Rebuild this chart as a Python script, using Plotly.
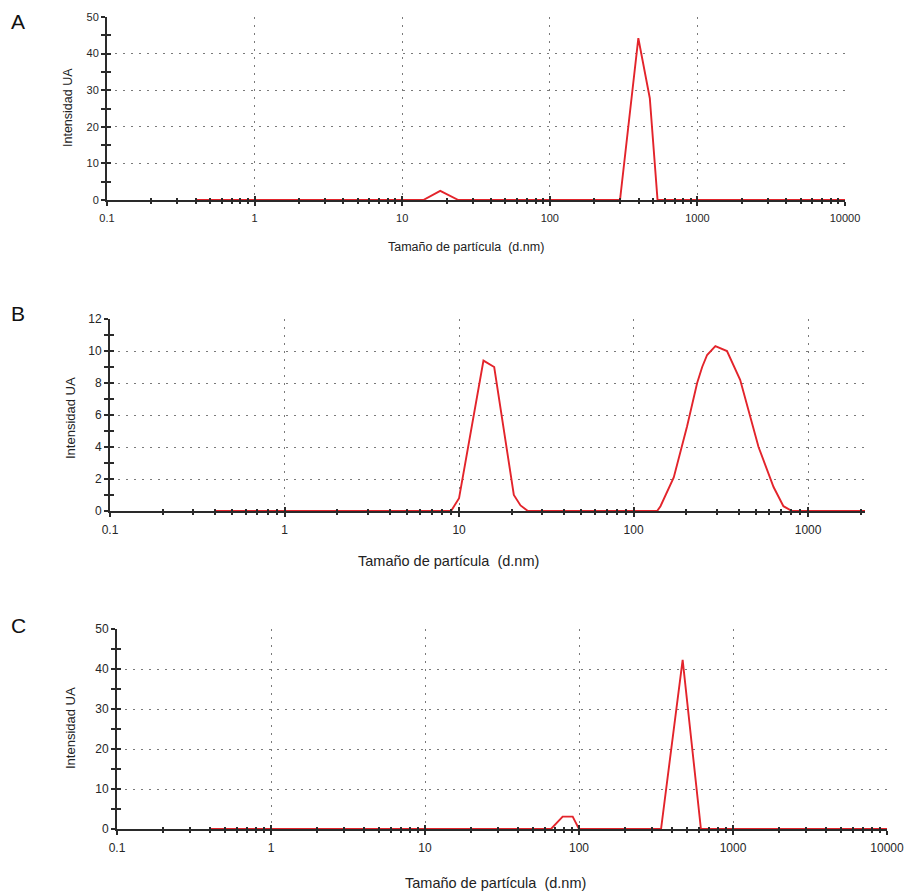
import math
import plotly.graph_objects as go

# ---------------- data ----------------
A_size = [0.4, 13.9, 18.1, 24.0, 299, 398, 476, 537, 10000]
A_int = [0, 0, 2.5, 0, 0, 44.2, 27.8, 0, 0]

B_size = [0.4, 9.0, 10.0, 13.8, 15.9, 20.6, 22.5, 24.8, 136.5, 142.6, 169.9, 202.6,
          231.3, 247.2, 263.8, 294.2, 343, 408, 520, 634, 722, 807, 10000]
B_int = [0, 0, 0.8, 9.4, 9.0, 1.0, 0.35, 0, 0, 0.3, 2.1, 5.3,
         8.0, 9.0, 9.75, 10.3, 10.0, 8.2, 4.0, 1.5, 0.3, 0, 0]

C_size = [0.4, 65.8, 78.3, 91, 100, 341, 471, 619, 10000]
C_int = [0, 0, 3.1, 3.1, 0, 0, 42.3, 0, 0]

x_tickvals_AC = [0.1, 1, 10, 100, 1000, 10000]
x_ticktext_AC = ["0.1", "1", "10", "100", "1000", "10000"]
x_tickvals_B = [0.1, 1, 10, 100, 1000]
x_ticktext_B = ["0.1", "1", "10", "100", "1000"]

y_ticks_AC = [0, 10, 20, 30, 40, 50]
y_ticks_B = [0, 2, 4, 6, 8, 10, 12]

x_title = "Tamaño de partícula  (d.nm)"
y_title = "Intensidad UA"
panel_labels = ["A", "B", "C"]

# ---------------- layout geometry (pixels) ----------------
W, H = 910, 895
def px(x):
    return x / W
def py(y):
    return 1 - y / H

panels = [
    dict(x=A_size, y=A_int, xdom=(107, 845), ydom=(200, 17), xr=(-1, 4), yr=(0, 50),
         xtv=x_tickvals_AC, xtt=x_ticktext_AC, ytv=y_ticks_AC, ymin=5,
         tickfs=11, ytitle=(68, 108, 12.5), xtitle=(466, 247, 12.5), letter=(18, 22)),
    dict(x=B_size, y=B_int, xdom=(110, 865), ydom=(511, 319), xr=(-1, 3.326), yr=(0, 12),
         xtv=x_tickvals_B, xtt=x_ticktext_B, ytv=y_ticks_B, ymin=1,
         tickfs=12, ytitle=(70, 418, 13), xtitle=(448, 561, 14.5), letter=(18, 313)),
    dict(x=C_size, y=C_int, xdom=(117, 887), ydom=(829, 629), xr=(-1, 4), yr=(0, 50),
         xtv=x_tickvals_AC, xtt=x_ticktext_AC, ytv=y_ticks_AC, ymin=5,
         tickfs=12, ytitle=(70, 728, 13), xtitle=(496, 883, 14.5), letter=(18, 625)),
]

FONT = "Liberation Sans, Arial, sans-serif"
AXC = "#2a2a2a"
GRIDC = "#7a7a7a"
TICKFC = "#262626"

fig = go.Figure()
layout = dict(width=W, height=H, margin=dict(l=0, r=0, t=0, b=0, autoexpand=False),
              paper_bgcolor="white", plot_bgcolor="white", showlegend=False,
              font=dict(family=FONT, color="#333"))
annotations = []

for i, p in enumerate(panels):
    n = i + 1
    o = i + 4
    xs = "" if n == 1 else str(n)
    xid, yid = "x" + xs, "y" + xs
    oxid, oyid = "x" + str(o), "y" + str(o)

    fig.add_trace(go.Scatter(x=p["x"], y=p["y"], xaxis=xid, yaxis=yid, mode="lines",
                             line=dict(color="#e3242b", width=1.9), hoverinfo="skip"))
    fig.add_trace(go.Scatter(x=[], y=[], xaxis=oxid, yaxis=oyid, mode="lines",
                             hoverinfo="skip"))

    lo, hi = p["xr"]
    minor_x = [m * 10 ** d for d in range(-1, 4) for m in range(2, 10)
               if lo <= math.log10(m * 10 ** d) <= hi]
    minor_y = [v + p["ymin"] for v in p["ytv"][:-1]]

    xdom = [px(p["xdom"][0]), px(p["xdom"][1])]
    ydom = [py(p["ydom"][0]), py(p["ydom"][1])]

    layout["xaxis" + xs] = dict(
        domain=xdom, anchor=yid, type="log", range=list(p["xr"]), automargin=False,
        tickmode="array", tickvals=p["xtv"], ticktext=p["xtt"], ticklabelstandoff=3,
        showline=True, linecolor=AXC, linewidth=2, mirror=False,
        ticks="outside", ticklen=4, tickwidth=1.5, tickcolor=AXC,
        minor=dict(tickmode="array", tickvals=minor_x, ticks="outside", ticklen=2,
                   tickwidth=1.5, tickcolor=AXC, showgrid=False),
        showgrid=True, gridcolor=GRIDC, gridwidth=1.3, griddash="2px,6px",
        zeroline=False, tickfont=dict(size=p["tickfs"], color=TICKFC, family=FONT),
        fixedrange=True)
    layout["yaxis" + xs] = dict(
        domain=ydom, anchor=xid, range=list(p["yr"]), automargin=False,
        tickmode="array", tickvals=p["ytv"],
        showline=True, linecolor=AXC, linewidth=2,
        ticks="outside", ticklen=4, tickwidth=1.5, tickcolor=AXC,
        minor=dict(tickmode="array", tickvals=minor_y, ticks="outside", ticklen=4,
                   tickwidth=1.5, tickcolor=AXC, showgrid=False),
        showgrid=True, gridcolor=GRIDC, gridwidth=1.3, griddash="2px,6px",
        zeroline=False, tickfont=dict(size=p["tickfs"], color=TICKFC, family=FONT),
        fixedrange=True)
    # overlay axes giving the inner half of the cross-shaped tick marks
    layout["xaxis" + str(o)] = dict(
        overlaying=xid, anchor=yid, type="log", range=list(p["xr"]), automargin=False,
        tickmode="array", tickvals=p["xtv"], showticklabels=False,
        showline=False, showgrid=False, zeroline=False,
        ticks="inside", ticklen=4, tickwidth=1.5, tickcolor=AXC,
        minor=dict(tickmode="array", tickvals=minor_x, ticks="inside", ticklen=2,
                   tickwidth=1.5, tickcolor=AXC, showgrid=False),
        fixedrange=True)
    layout["yaxis" + str(o)] = dict(
        overlaying=yid, anchor=xid, range=list(p["yr"]), automargin=False,
        tickmode="array", tickvals=p["ytv"], showticklabels=False,
        showline=False, showgrid=False, zeroline=False,
        ticks="inside", ticklen=4, tickwidth=1.5, tickcolor=AXC,
        minor=dict(tickmode="array", tickvals=minor_y, ticks="inside", ticklen=4,
                   tickwidth=1.5, tickcolor=AXC, showgrid=False),
        fixedrange=True)

    tx, ty, tfs = p["ytitle"]
    annotations.append(dict(text=y_title, x=px(tx), y=py(ty), xref="paper", yref="paper",
                            xanchor="center", yanchor="middle", textangle=-90,
                            showarrow=False, font=dict(size=tfs, color="#222", family=FONT)))
    tx, ty, tfs = p["xtitle"]
    annotations.append(dict(text=x_title, x=px(tx), y=py(ty), xref="paper", yref="paper",
                            xanchor="center", yanchor="middle",
                            showarrow=False, font=dict(size=tfs, color="#222", family=FONT)))
    lx, ly = p["letter"]
    annotations.append(dict(text=panel_labels[i], x=px(lx), y=py(ly), xref="paper", yref="paper",
                            xanchor="center", yanchor="middle",
                            showarrow=False, font=dict(size=21, color="#111", family=FONT)))

layout["annotations"] = annotations
fig.update_layout(**layout)
fig.write_html("out.html")
